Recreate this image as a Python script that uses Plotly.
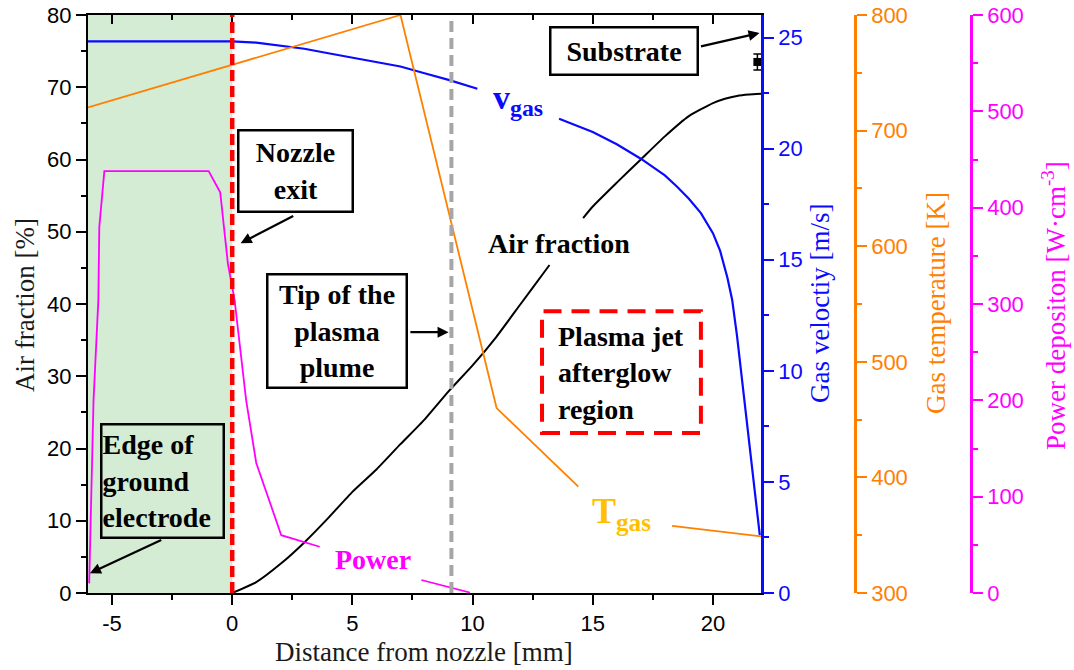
import plotly.graph_objects as go

# ---------------- data ----------------
# Air fraction [%] vs distance [mm] (None = gap left for the label)
air_x = [0, 1, 2, 3, 4, 5, 6, 7, 8, 9, 10, 11, 12, 13, 13.2, None,
         14.6, 15, 16, 17, 18, 19, 20, 20.5, 21, 21.5, 22]
air_y = [0, 1.5, 4.0, 7.0, 10.4, 14.0, 17.1, 20.6, 24.0, 27.9, 31.5, 35.5, 40.0, 44.5, 45.4, None,
         51.9, 53.5, 56.8, 60.0, 63.2, 66.0, 67.8, 68.4, 68.8, 69.0, 69.1]

# Gas velocity [m/s]
vel_x = [-6, 0, 1, 2, 3, 4, 5, 6, 7, 8, 9, 10.2, None,
         13.6, 14, 15, 16, 17, 18, 18.5, 19, 19.5, 20, 20.3, 20.6, 20.8, 21, 21.3, 21.5, 21.7, 21.95]
vel_y = [24.83, 24.83, 24.78, 24.65, 24.5, 24.3, 24.1, 23.9, 23.7, 23.4, 23.1, 22.7, None,
         21.35, 21.18, 20.75, 20.2, 19.55, 18.8, 18.3, 17.75, 17.1, 16.2, 15.4, 14.2, 13.2, 11.6, 8.8, 6.8, 5.2, 2.6]

# Gas temperature [K]
tmp_x = [-6, 7, 11, 12.8, 14.4, None, 18.3, 22]
tmp_y = [720, 800, 460, 424, 392, None, 358, 349]

# Power deposition [W/cm3]
pow_x = [-5.95, -5.88, -5.77, -5.57, -5.53, -5.32, -0.98, -0.5, -0.18, 0.1, 0.58, 1.0, 2.04, 3.64, None,
         7.87, 9.89]
pow_y = [10, 90, 200, 304, 380, 438, 438, 416, 342, 304, 200, 135, 60, 48, None,
         13.5, 0.5]

# Substrate measurement (air fraction)
sub_x = [21.85]
sub_y = [73.5]
sub_err = [1.1]

# tick labels
x_tickvals = [-5, 0, 5, 10, 15, 20]
x_ticktext = ["-5", "0", "5", "10", "15", "20"]
air_ticks = [0, 10, 20, 30, 40, 50, 60, 70, 80]
vel_ticks = [0, 5, 10, 15, 20, 25]
tmp_ticks = [300, 400, 500, 600, 700, 800]
pow_ticks = [0, 100, 200, 300, 400, 500, 600]

# ---------------- styling ----------------
W, H = 1074, 670
BLUE = "#0a0aff"
ORANGE = "#ff8000"
MAGENTA = "#ff00ff"
GOLD = "#ffc000"
SANS = "Liberation Sans, Arial, sans-serif"
SERIF = "Liberation Serif, Times New Roman, serif"

XD = [88 / W, 761 / W]
YD = [1 - 593 / H, 1 - 15 / H]

fig = go.Figure()

fig.add_trace(go.Scatter(x=air_x, y=air_y, mode="lines", line=dict(color="black", width=2, shape="spline", smoothing=0.5),
                         yaxis="y", showlegend=False))
fig.add_trace(go.Scatter(x=vel_x, y=vel_y, mode="lines", line=dict(color=BLUE, width=2.2),
                         yaxis="y2", showlegend=False))
fig.add_trace(go.Scatter(x=tmp_x, y=tmp_y, mode="lines", line=dict(color=ORANGE, width=1.8),
                         yaxis="y3", showlegend=False))
fig.add_trace(go.Scatter(x=pow_x, y=pow_y, mode="lines", line=dict(color=MAGENTA, width=1.8),
                         yaxis="y4", showlegend=False))
fig.add_trace(go.Scatter(x=sub_x, y=sub_y, mode="markers",
                         marker=dict(symbol="square", size=8, color="black"),
                         error_y=dict(type="data", array=sub_err, color="black", thickness=1.5, width=4),
                         yaxis="y", showlegend=False))
# invisible trace to activate the top mirror axis
fig.add_trace(go.Scatter(x=[None], y=[None], xaxis="x2", yaxis="y", showlegend=False))

tickfont = dict(family=SANS, size=22, color="black")

fig.update_layout(
    width=W, height=H,
    margin=dict(l=0, r=0, t=0, b=0, autoexpand=False),
    paper_bgcolor="white", plot_bgcolor="white",
    xaxis=dict(domain=XD, range=[-6, 22], showgrid=False, zeroline=False, automargin=False,
               showline=True, linecolor="black", linewidth=2,
               ticks="outside", ticklen=10, tickwidth=2, tickcolor="black",
               tickvals=x_tickvals, ticktext=x_ticktext, tickfont=tickfont,
               minor=dict(ticks="outside", ticklen=5, tickwidth=2, tickcolor="black", dtick=2.5, tick0=0),
               anchor="y"),
    xaxis2=dict(domain=XD, range=[-6, 22], overlaying="x", side="top", matches="x", automargin=False,
                showgrid=False, zeroline=False, showline=True, linecolor="black", linewidth=2,
                ticks="inside", ticklen=9, tickwidth=2, tickcolor="black", tickvals=x_tickvals,
                showticklabels=False,
                minor=dict(ticks="inside", ticklen=5, tickwidth=2, tickcolor="black", dtick=2.5, tick0=0),
                anchor="y"),
    yaxis=dict(domain=YD, range=[0, 80], showgrid=False, zeroline=False, automargin=False,
               showline=True, linecolor="black", linewidth=2,
               ticks="outside", ticklen=10, tickwidth=2, tickcolor="black",
               tickvals=air_ticks, tickfont=tickfont,
               minor=dict(ticks="outside", ticklen=5, tickwidth=2, tickcolor="black", dtick=5, tick0=0)),
    yaxis2=dict(domain=YD, range=[0, 26.02], overlaying="y", side="right", anchor="x", automargin=False,
                showgrid=False, zeroline=False, showline=True, linecolor=BLUE, linewidth=2.5,
                ticks="outside", ticklen=10, tickwidth=2, tickcolor=BLUE,
                tickvals=vel_ticks, tickfont=dict(family=SANS, size=22, color=BLUE),
                minor=dict(ticks="outside", ticklen=5, tickwidth=2, tickcolor=BLUE, dtick=2.5, tick0=0)),
    yaxis3=dict(domain=YD, range=[300, 800], overlaying="y", side="right", anchor="free", automargin=False,
                position=855 / W,
                showgrid=False, zeroline=False, showline=True, linecolor=ORANGE, linewidth=2.5,
                ticks="outside", ticklen=10, tickwidth=2, tickcolor=ORANGE,
                tickvals=tmp_ticks, tickfont=dict(family=SANS, size=22, color=ORANGE),
                minor=dict(ticks="outside", ticklen=5, tickwidth=2, tickcolor=ORANGE, dtick=50, tick0=0)),
    yaxis4=dict(domain=YD, range=[0, 600], overlaying="y", side="right", anchor="free", automargin=False,
                position=971 / W,
                showgrid=False, zeroline=False, showline=True, linecolor=MAGENTA, linewidth=2.5,
                ticks="outside", ticklen=10, tickwidth=2, tickcolor=MAGENTA,
                tickvals=pow_ticks, tickfont=dict(family=SANS, size=22, color=MAGENTA),
                minor=dict(ticks="outside", ticklen=5, tickwidth=2, tickcolor=MAGENTA, dtick=50, tick0=0)),
)

# ---------------- shapes ----------------
shapes = [
    dict(type="rect", xref="x", yref="y", x0=-6, x1=0, y0=0, y1=80,
         fillcolor="#d4ebd4", line=dict(width=0), layer="below"),
    dict(type="line", xref="x", yref="y", x0=0, x1=0, y0=0, y1=80,
         line=dict(color="#ff0000", width=4.5, dash="11px,5px")),
    dict(type="line", xref="x", yref="y", x0=9.12, x1=9.12, y0=0, y1=80,
         line=dict(color="#a6a6a6", width=4, dash="11px,6px")),
    dict(type="rect", xref="x", yref="y", x0=12.89, x1=19.5, y0=22.15, y1=39.0,
         line=dict(color="#ff0000", width=4, dash="18px,10px"), fillcolor="rgba(0,0,0,0)"),
]
fig.update_layout(shapes=shapes)

# ---------------- annotations ----------------
ann = []
bold = dict(family=SERIF, size=28, color="black")


def box(x, y, text, w, h, align="center"):
    return dict(x=x, y=y, xref="x", yref="y", text=text, showarrow=False,
                font=bold, bordercolor="black", borderwidth=2.5, borderpad=0,
                bgcolor="rgba(255,255,255,0)", width=w - 5, height=h - 5,
                align=align, valign="middle")


def arrow(x, y, ax, ay):
    return dict(x=x, y=y, ax=ax, ay=ay, xref="x", yref="y", axref="x", ayref="y",
                text="", showarrow=True, arrowhead=2, arrowsize=1, arrowwidth=2.2,
                arrowcolor="black", standoff=0, startstandoff=0)


ann.append(dict(box(2.62, 58.4, "<b>Nozzle<br>exit</b>", 117, 84), bgcolor="white"))
ann.append(dict(box(4.38, 36.2, "<b>Tip of the<br>plasma<br>plume</b>", 142, 116), bgcolor="white"))
ann.append(box(-2.89, 15.46, "<b>Edge of<br>ground<br>electrode</b>", 125, 116, align="left"))
ann.append(dict(box(16.32, 75.0, "<b>Substrate</b>", 150, 50), bgcolor="white"))
ann.append(dict(x=16.17, y=30.5, xref="x", yref="y", text="<b>Plasma jet<br>afterglow<br>region</b>",
                showarrow=False, font=bold, align="left"))

ann.append(arrow(0.35, 48.4, 2.6, 52.3))
ann.append(arrow(9.0, 36.1, 7.35, 36.1))
ann.append(arrow(-5.92, 2.73, -2.89, 7.43))
ann.append(arrow(21.94, 77.5, 19.44, 75.6))

ann.append(dict(x=13.6, y=48.4, xref="x", yref="y", text="<b>Air fraction</b>", showarrow=False,
                font=dict(family=SERIF, size=28, color="black")))
ann.append(dict(x=5.86, y=4.6, xref="x", yref="y", text="<b>Power</b>", showarrow=False,
                font=dict(family=SERIF, size=28, color=MAGENTA)))
ann.append(dict(x=11.9, y=68.2, xref="x", yref="y", text="<b>v<sub>gas</sub></b>", showarrow=False,
                font=dict(family=SERIF, size=34, color=BLUE)))
ann.append(dict(x=16.2, y=11.0, xref="x", yref="y", text="<b>T<sub>gas</sub></b>", showarrow=False,
                font=dict(family=SERIF, size=36, color=GOLD)))

# axis titles
tfont = dict(family=SERIF, size=27)


def title(px, py, text, color, angle=0):
    return dict(x=px / W, y=1 - py / H, xref="paper", yref="paper", showarrow=False,
                xanchor="center", yanchor="middle", textangle=angle,
                text=text, font=dict(tfont, color=color))


ann.append(title(424, 652, "Distance from nozzle [mm]", "#1a1a1a"))
ann.append(title(25, 305, "Air fraction [%]", "#1a1a1a", -90))
ann.append(title(820, 304, "Gas veloctiy [m/s]", BLUE, -90))
ann.append(title(936, 303, "Gas temperature [K]", ORANGE, -90))
ann.append(title(1054, 306, "Power depositon [W·cm<sup>-3</sup>]", MAGENTA, -90))

fig.update_layout(annotations=ann)

fig.write_html("out.html", config={"displayModeBar": False},
               post_script="document.body.style.margin='0';")
